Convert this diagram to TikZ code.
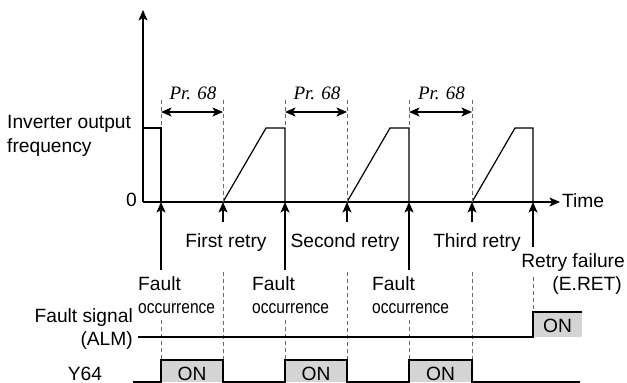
\documentclass[tikz,border=0pt]{standalone}
\usepackage{fontspec}
\setmainfont{Liberation Sans}
\newfontfamily\prfont{Liberation Serif}
\usetikzlibrary{arrows.meta}
\definecolor{onfill}{RGB}{212,212,212}
\definecolor{dashgray}{RGB}{105,105,105}
\begin{document}
\begin{tikzpicture}[x=1pt,y=-1pt,
  wave/.style={line width=1.2pt, line join=miter},
  guide/.style={dashgray, line width=0.9pt, dash pattern=on 4pt off 3pt},
  tipline/.style={-{Stealth[length=10.5pt,width=9pt,inset=2.5pt]}, line width=1.2pt},
  dbl/.style={{Stealth[length=10.5pt,width=9pt,inset=2.5pt]}-{Stealth[length=10.5pt,width=9pt,inset=2.5pt]}, line width=1.2pt},
  lab/.style={font=\fontsize{19.2}{21}\selectfont, inner sep=0pt, anchor=base},
  smalllab/.style={font=\fontsize{18.5}{20}\selectfont, inner sep=0pt, anchor=base west},
  prlab/.style={font=\fontsize{19}{21}\selectfont\prfont\itshape, inner sep=0pt, anchor=base},
  onbox/.style={fill=onfill, draw=none}]
\useasboundingbox (0,0) rectangle (627,383);

% axes
\coordinate (O) at (143,202);
\coordinate (ytop) at (143,10);
\coordinate (xend) at (560,202);
\draw[tipline] (O) -- (ytop);
\draw[tipline] (O) -- (xend);
\node[lab, anchor=base west] (time) at (562,207) {Time};
\node[lab, anchor=base east] (zero) at (137,206) {0};
\node[lab, anchor=base west] (inv1) at (7,128) {Inverter output};
\node[lab, anchor=base west] (inv2) at (7,152) {frequency};

% fault / retry positions
\coordinate (f1) at (161,202); \coordinate (f2) at (285,202);
\coordinate (f3) at (409,202); \coordinate (f4) at (533,202);
\coordinate (r1) at (223,202); \coordinate (r2) at (347,202);
\coordinate (r3) at (472,202);

% waveform
\draw[wave] (143,128) -- (161,128) -- (f1);
\draw[wave] (r1) -- (266,128) -- (285,128) -- (f2);
\draw[wave] (r2) -- (390,128) -- (409,128) -- (f3);
\draw[wave] (r3) -- (515,128) -- (533,128) -- (f4);

% upper dashed guides and Pr. 68 intervals
\foreach \f/\r/\i in {161/223/1, 285/347/2, 409/472/3}{
  \coordinate (gfa\i) at (\f,100); \coordinate (gfb\i) at (\f,128);
  \coordinate (gra\i) at (\r,100); \coordinate (grb\i) at (\r,202);
  \draw[guide] (gfa\i) -- (gfb\i);
  \draw[guide] (gra\i) -- (grb\i);
  \coordinate (pa\i) at (\f,112); \coordinate (pb\i) at (\r,112);
  \draw[dbl] (pa\i) -- (pb\i);
  \node[prlab] (pr\i) at ({(\f+\r)/2+1},99) {Pr. 68};
}

% arrows below axis
\foreach \x/\i in {161/1, 285/2, 409/3}{
  \coordinate (fs\i) at (\x,270);
  \draw[tipline] (fs\i) -- (\x,202);
}
\coordinate (fs4) at (533,247);
\draw[tipline] (fs4) -- (f4);
\foreach \x/\i in {223/1, 347/2, 472/3}{
  \coordinate (rs\i) at (\x,222);
  \draw[tipline] (rs\i) -- (\x,202);
}

% retry labels
\node[lab] (ret1) at (226,247) {First retry};
\node[lab] (ret2) at (345,247) {Second retry};
\node[lab] (ret3) at (477,247) {Third retry};
\node[lab, anchor=base east] (fail1) at (625,267) {Retry failure};
\node[lab, anchor=base east] (fail2) at (622,290) {(E.RET)};

% fault occurrence labels
\foreach \x/\i in {138/1, 252/2, 372/3}{
  \node[lab, anchor=base west] (fa\i) at (\x,290) {Fault};
  \node[smalllab] (oc\i) at (\x,313) {\scalebox{0.84}[1]{occurrence}};
}

% lower dashed guides
\foreach \x/\i in {161/1, 285/2, 409/3}{
  \coordinate (lfa\i) at (\x,320); \coordinate (lfb\i) at (\x,360);
  \draw[guide] (lfa\i) -- (lfb\i);
}
\foreach \x/\i in {223/1, 347/2, 472/3}{
  \coordinate (lra\i) at (\x,272); \coordinate (lrb\i) at (\x,360);
  \draw[guide] (lra\i) -- (lrb\i);
}
\coordinate (lf4a) at (533,277); \coordinate (lf4b) at (533,312);
\draw[guide] (lf4a) -- (lf4b);

% ALM signal
\node[lab, anchor=base east] (alm1) at (133,322) {Fault signal};
\node[lab, anchor=base east] (alm2) at (133,345) {(ALM)};
\fill[onbox] (533,312) rectangle (582,337);
\draw[wave] (138,337) -- (533,337) -- (533,312) -- (582,312);
\node[lab] (almon) at (557.5,332) {ON};

% Y64 signal
\node[lab] (y64) at (85,380) {Y64};
\foreach \f/\r/\i in {161/223/1, 285/347/2, 409/472/3}{
  \fill[onbox] (\f,360) rectangle (\r,382);
  \node[lab] (yon\i) at ({(\f+\r)/2},380) {ON};
}
\draw[wave] (133,382) -- (161,382) -- (161,360) -- (223,360) -- (223,382)
  -- (285,382) -- (285,360) -- (347,360) -- (347,382)
  -- (409,382) -- (409,360) -- (472,360) -- (472,382) -- (580,382);
\end{tikzpicture}
\end{document}
